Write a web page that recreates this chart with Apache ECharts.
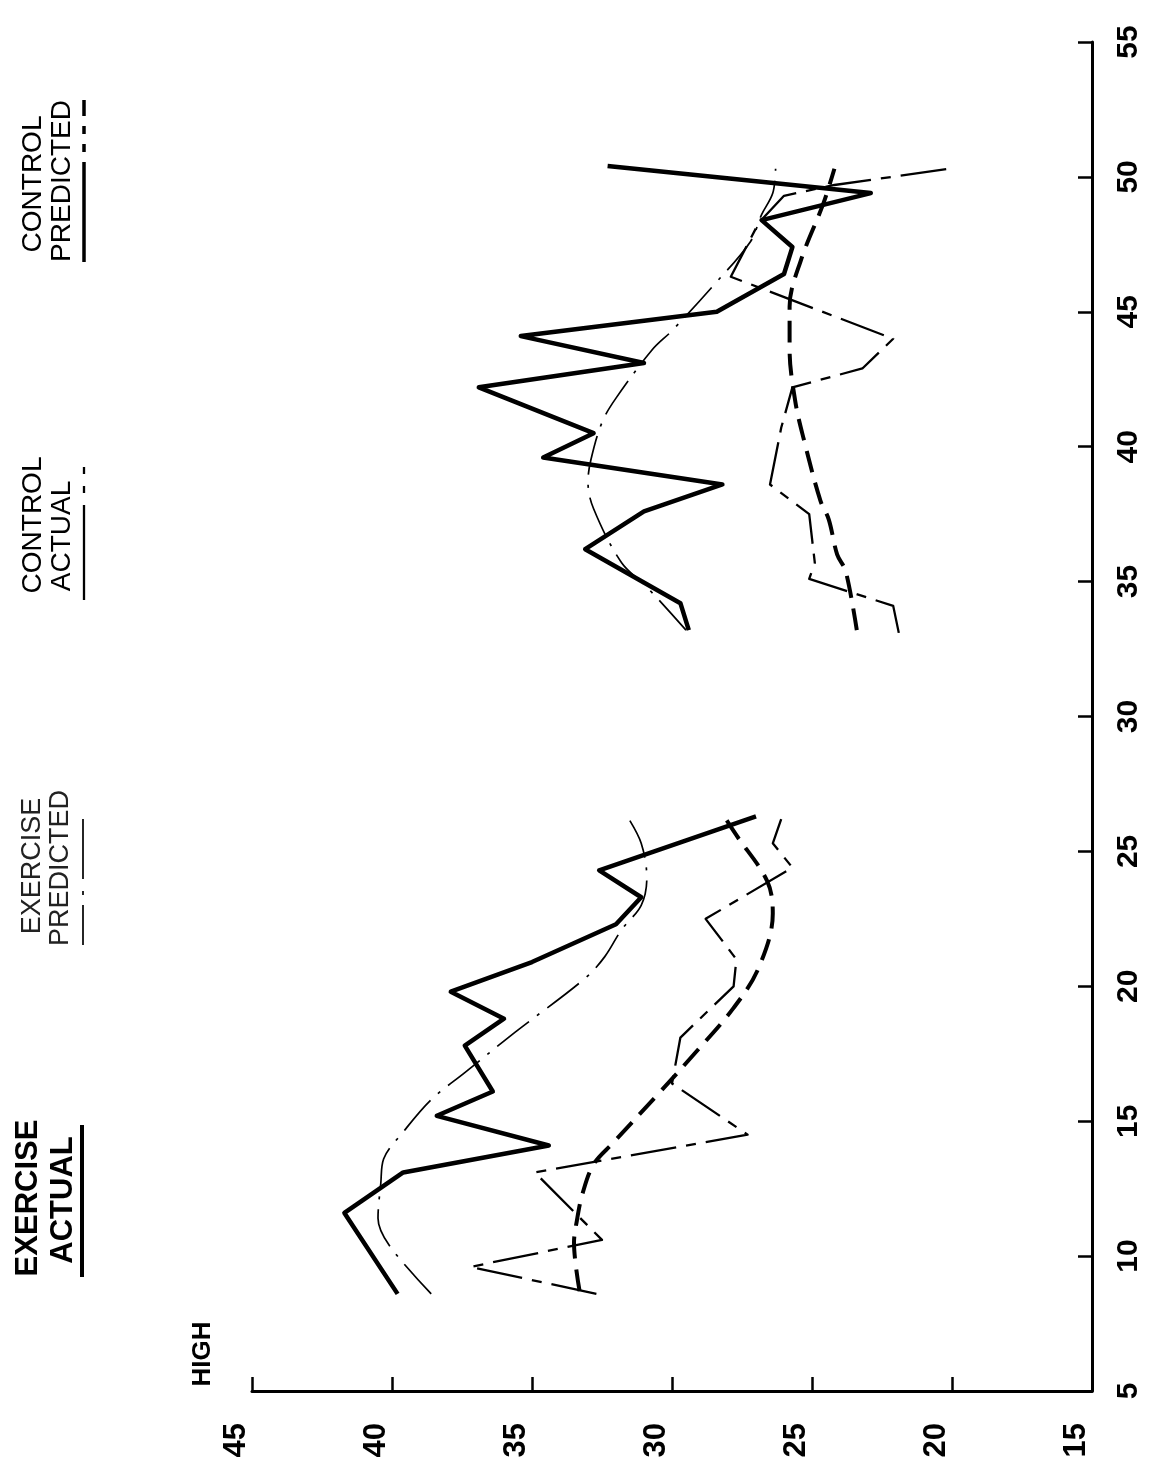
<!DOCTYPE html>
<html>
<head>
<meta charset="utf-8">
<title>Exercise and control: actual vs predicted</title>
<script src="https://cdn.jsdelivr.net/npm/echarts@6/dist/echarts.min.js"></script>
<style>
  html, body { margin: 0; padding: 0; background: #ffffff; }
  #chart { width: 1149px; height: 1472px; }
</style>
</head>
<body>
<div id="chart"></div>
<script>
// Axis ticks: week runs up the right-hand axis, score runs along the bottom (high score on the left).
const weekTicks = [5, 10, 15, 20, 25, 30, 35, 40, 45, 50, 55];
const scoreTicks = [15, 20, 25, 30, 35, 40, 45];

// Each point is [week, score].
// Exercise period
const exerciseActualHigh = [
  [8.6, 39.8], [11.6, 41.7], [13.1, 39.6], [14.1, 34.4], [15.2, 38.4], [16.1, 36.4],
  [17.8, 37.4], [18.8, 36.0], [19.8, 37.9], [20.9, 35.0], [22.3, 32.0], [23.3, 31.1],
  [24.3, 32.6], [26.3, 27.0]
];
const exercisePredictedHigh = [
  [8.6, 38.6], [10.4, 40.1], [11.4, 40.5], [12.7, 40.4], [13.6, 40.3], [14.6, 39.6],
  [15.8, 38.6], [16.8, 37.4], [18.3, 35.6], [20.3, 33.1], [21.1, 32.4], [22.1, 31.8],
  [23.0, 31.1], [24.0, 30.9], [25.3, 31.1], [26.3, 31.6]
];
const exerciseActualLow = [
  [8.6, 32.7], [9.6, 37.2], [10.6, 32.5], [13.1, 34.9], [14.5, 27.3], [16.4, 30.0],
  [18.1, 29.7], [20.0, 27.8], [21.0, 27.7], [22.5, 28.8], [24.4, 25.7], [25.3, 26.4],
  [26.2, 26.1]
];
const exercisePredictedLow = [
  [8.7, 33.3], [10.5, 33.5], [11.3, 33.4], [12.3, 33.2], [13.4, 32.8], [14.2, 32.1],
  [16.0, 30.5], [17.5, 29.2], [19.2, 27.8], [20.7, 26.9], [22.7, 26.4], [23.9, 26.6],
  [25.6, 27.7], [26.4, 28.2]
];

// Control period
const controlActualHigh = [
  [33.2, 29.4], [34.2, 29.7], [36.2, 33.1], [37.6, 31.0], [38.6, 28.2], [39.6, 34.6],
  [40.5, 32.8], [42.2, 36.9], [43.1, 31.0], [44.1, 35.4], [45.0, 28.4], [46.4, 26.0],
  [47.4, 25.7], [48.4, 26.8], [49.4, 22.9], [50.4, 32.3]
];
const controlPredictedHigh = [
  [33.2, 29.5], [34.8, 30.9], [35.7, 31.8], [37.7, 32.8], [38.7, 33.0], [39.5, 32.9],
  [40.9, 32.5], [41.8, 32.0], [43.6, 30.7], [44.3, 30.0], [46.0, 28.5], [47.6, 27.2],
  [48.6, 26.8], [49.4, 26.4], [50.3, 26.3]
];
const controlActualLow = [
  [33.1, 21.9], [34.1, 22.1], [35.1, 25.1], [35.7, 24.9], [37.5, 25.1], [38.6, 26.5],
  [40.7, 26.1], [42.2, 25.7], [42.9, 23.2], [44.0, 22.1], [46.3, 27.9], [48.3, 26.9],
  [49.3, 26.0], [49.7, 24.2], [50.3, 20.1]
];
const controlPredictedLow = [
  [33.2, 23.4], [35.4, 23.8], [36.0, 24.1], [37.3, 24.4], [38.0, 24.7], [40.3, 25.3],
  [41.7, 25.6], [43.6, 25.8], [45.2, 25.8], [46.9, 25.4], [49.0, 24.6], [50.3, 24.2]
];

// Line looks shared by both periods
const styles = {
  actualHigh:    { width: 4.5, type: 'solid', smooth: false },
  predictedHigh: { width: 1.7, type: [40, 10, 3, 10], smooth: 0.35 },
  actualLow:     { width: 2.3, type: [46, 10, 10, 10], smooth: false },
  predictedLow:  { width: 4,   type: [22, 11], smooth: 0.35 }
};

const toXY = pts => pts.map(([week, score]) => [score, week]);

function lineSeries(name, pts, look) {
  return {
    name: name,
    type: 'line',
    data: toXY(pts),
    showSymbol: false,
    symbol: 'none',
    smooth: look.smooth,
    silent: true,
    lineStyle: { color: '#000', width: look.width, type: look.type, cap: 'butt', join: 'round' }
  };
}

const labelFont = '"Liberation Sans", Arial, Helvetica, sans-serif';

function rotText(text, x, y, size, weight, fill) {
  return {
    type: 'text', x: x, y: y, rotation: Math.PI / 2, silent: true,
    style: {
      text: text, fill: fill || '#000',
      font: (weight || 'normal') + ' ' + size + 'px ' + labelFont,
      align: 'center', verticalAlign: 'middle',
      textAlign: 'center', textVerticalAlign: 'middle'
    }
  };
}
function keyLine(x, yBottom, yTop, width, dash) {
  return {
    type: 'line', silent: true,
    shape: { x1: x, y1: yBottom, x2: x, y2: yTop },
    style: { stroke: '#000', lineWidth: width, lineDash: dash || null }
  };
}

const chart = echarts.init(document.getElementById('chart'), null, { renderer: 'canvas' });

chart.setOption({
  animation: false,
  backgroundColor: '#ffffff',
  grid: { left: 252, right: 57, top: 42, bottom: 81, containLabel: false },
  xAxis: {
    type: 'value',
    min: scoreTicks[0], max: scoreTicks[scoreTicks.length - 1], interval: 5,
    inverse: true, position: 'bottom',
    axisLine: { onZero: false, lineStyle: { color: '#000', width: 3 } },
    axisTick: { inside: true, length: 14, lineStyle: { color: '#000', width: 2.5 } },
    axisLabel: {
      rotate: 90, margin: 32, color: '#000', fontSize: 31, fontWeight: 'bold',
      fontFamily: labelFont, verticalAlign: 'bottom'
    },
    splitLine: { show: false }
  },
  yAxis: {
    type: 'value',
    min: weekTicks[0], max: weekTicks[weekTicks.length - 1], interval: 5,
    position: 'right',
    axisLine: { show: true, onZero: false, lineStyle: { color: '#000', width: 3 } },
    axisTick: { show: true, inside: true, length: 14, lineStyle: { color: '#000', width: 2.5 } },
    axisLabel: {
      rotate: 90, margin: 22, color: '#000', fontSize: 30, fontWeight: 'bold',
      fontFamily: labelFont
    },
    splitLine: { show: false }
  },
  series: [
    lineSeries('Exercise actual (high)', exerciseActualHigh, styles.actualHigh),
    lineSeries('Exercise predicted (high)', exercisePredictedHigh, styles.predictedHigh),
    lineSeries('Exercise actual (low)', exerciseActualLow, styles.actualLow),
    lineSeries('Exercise predicted (low)', exercisePredictedLow, styles.predictedLow),
    lineSeries('Control actual (high)', controlActualHigh, styles.actualHigh),
    lineSeries('Control predicted (high)', controlPredictedHigh, styles.predictedHigh),
    lineSeries('Control actual (low)', controlActualLow, styles.actualLow),
    lineSeries('Control predicted (low)', controlPredictedLow, styles.predictedLow)
  ],
  graphic: {
    elements: [
      // key, read bottom-to-top along the left edge
      rotText('EXERCISE', 28, 1198, 31, 'bold'),
      rotText('ACTUAL', 63, 1200, 31, 'bold'),
      keyLine(82, 1277, 1125, 4),

      rotText('EXERCISE', 33, 866, 27, 'normal', '#222'),
      rotText('PREDICTED', 61, 868, 27, 'normal', '#222'),
      keyLine(83, 945, 793, 1.7, [40, 10, 4, 12, 60]),

      rotText('CONTROL', 33, 525, 28, 'normal'),
      rotText('ACTUAL', 62, 536, 28, 'normal'),
      keyLine(84, 600, 455, 2.3, [95, 12, 7, 12, 7, 12]),

      rotText('CONTROL', 33, 184, 28, 'normal'),
      rotText('PREDICTED', 62, 181, 28, 'normal'),
      keyLine(84, 262, 100, 3.5, [100, 10, 8, 10, 8, 10]),

      rotText('HIGH', 203, 1354, 26, 'bold')
    ]
  }
});
</script>
</body>
</html>
